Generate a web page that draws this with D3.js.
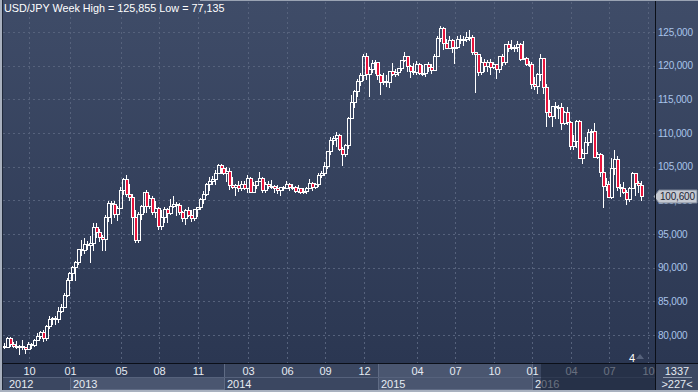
<!DOCTYPE html>
<html><head><meta charset="utf-8">
<script src="https://cdn.jsdelivr.net/npm/d3@7"></script>
<style>html,body{margin:0;padding:0;background:#2c3853;overflow:hidden}svg{display:block}text{font-family:"Liberation Sans",Arial,sans-serif}</style>
</head><body><svg id="c" width="698" height="392"></svg>
<script>
// ---------------- DATA ----------------
const title = "USD/JPY Week High = 125,855 Low = 77,135";
const firstWeek = "2012-08-06"; // Monday of first weekly candle
const open = [
78.30,78.25,79.55,78.70,78.30,78.25,78.35,78.20,77.95,78.70,78.45,79.30,79.90,80.40,79.50,81.30,82.45,82.50,82.40,83.50,84.20,85.90,
88.15,89.20,90.05,90.85,92.70,92.60,93.50,93.40,93.60,96.00,95.25,94.50,94.20,97.55,99.60,99.45,98.00,98.90,101.60,103.20,101.00,100.45,97.50,94.10,97.90,99.10,101.20,99.20,100.40,98.20,98.90,96.20,97.50,98.70,98.10,99.10,99.40,99.35,98.25,97.45,98.60,97.75,97.40,98.70,99.05,100.20,101.00,102.40,102.90,103.20,104.10,105.30,
104.85,104.10,104.30,102.30,102.05,102.30,101.80,102.50,101.80,103.30,101.30,102.30,102.80,103.30,101.60,102.40,102.15,102.20,101.85,101.50,101.95,101.80,102.50,102.00,102.05,101.40,101.85,101.30,101.35,101.80,102.60,102.05,102.40,103.80,104.05,105.10,107.35,108.95,109.25,109.75,107.65,106.90,108.15,112.30,114.60,116.30,117.75,118.65,121.45,118.80,119.50,120.40,
120.50,118.55,117.60,117.75,117.50,119.15,118.75,119.00,119.60,120.80,121.40,120.00,119.15,119.00,120.20,118.90,118.95,120.20,119.75,119.35,121.50,124.10,125.60,123.40,122.65,123.85,122.80,122.75,124.00,123.80,123.90,124.20,124.30,122.00,121.70,119.00,120.60,119.95,120.55,119.85,120.20,119.45,121.45,120.60,123.15,122.60,122.80,122.80,123.15,120.95,121.20,120.30,
120.20,117.25,116.95,118.75,121.10,116.85,113.15,112.55,113.95,113.80,113.80,111.50,113.05,111.70,108.05,108.75,111.80,106.30,107.10,108.65,110.15,110.30,106.50,106.90,104.20,102.20,102.50,100.50,104.80,106.10,102.00,101.80,101.30,100.20,101.80,104.00,102.60,102.25];
const high = [
78.80,79.65,79.65,78.90,79.05,78.50,79.20,78.25,78.90,78.75,79.45,80.35,80.65,80.70,81.50,82.85,82.60,82.85,84.20,84.60,86.20,88.45,
89.35,90.20,91.00,92.80,94.05,94.45,94.00,94.75,96.60,96.70,95.80,94.90,97.80,99.95,99.90,99.90,99.20,101.95,103.30,103.74,102.50,101.00,98.50,98.30,99.30,101.30,101.55,100.85,100.70,99.95,99.05,98.50,99.05,98.90,100.25,100.60,99.70,99.65,98.40,98.70,99.00,98.55,98.75,99.05,100.40,101.35,102.60,103.40,103.60,104.45,105.40,105.45,
105.20,104.90,104.85,103.40,102.50,102.85,102.85,102.85,103.75,103.40,102.75,102.85,104.15,103.45,102.75,102.85,103.00,102.30,102.35,101.95,102.10,102.80,102.60,102.40,102.10,102.25,101.90,101.85,102.00,103.15,102.70,102.60,104.10,104.30,105.70,107.40,109.45,109.50,110.10,109.90,107.85,108.40,112.45,115.60,116.40,118.00,118.95,121.70,121.85,119.85,120.80,120.90,
120.60,118.80,118.95,118.65,119.25,120.45,119.55,119.65,120.85,122.05,121.50,120.10,120.35,120.65,120.40,120.10,120.25,120.50,120.20,121.80,124.45,125.855,125.70,124.00,124.45,123.90,123.00,124.40,124.50,124.40,125.05,125.30,124.50,122.10,121.75,121.35,121.00,120.80,121.00,120.60,120.25,121.50,121.75,123.25,123.60,123.75,123.10,123.65,123.30,123.60,121.35,120.70,
120.55,118.25,118.85,121.70,121.20,117.35,114.85,113.95,114.55,114.10,114.45,113.30,113.80,111.75,109.75,111.90,111.90,107.55,109.35,110.60,110.65,111.45,107.20,107.05,106.80,103.30,102.80,106.30,107.50,106.55,102.45,102.65,101.50,102.05,104.20,104.00,102.80,102.80];
const low = [
78.10,78.15,78.40,78.20,78.10,77.135,77.90,77.40,77.90,78.00,78.40,79.20,79.50,79.05,79.30,81.00,81.70,81.70,82.00,83.40,84.10,85.80,
86.80,88.10,88.10,90.50,91.95,92.20,92.70,90.85,92.60,94.60,94.00,92.60,92.55,97.00,96.60,97.50,97.10,98.80,101.00,100.60,100.00,95.00,93.80,93.75,97.20,98.20,98.30,98.90,98.00,97.55,95.80,95.80,96.80,96.80,97.90,99.00,97.75,97.90,96.95,96.55,97.60,96.95,97.15,97.65,98.70,99.55,100.75,101.60,102.50,102.40,104.10,104.00,
103.90,102.85,101.75,101.80,100.75,101.40,101.60,101.70,101.20,101.20,101.20,101.90,102.80,101.30,101.30,101.90,101.90,101.30,101.10,100.80,101.60,101.80,101.60,101.70,101.30,101.25,101.05,101.05,101.10,101.80,101.50,101.90,102.20,103.50,103.80,104.75,106.95,108.30,108.00,107.50,105.20,106.60,107.70,112.30,113.85,115.45,117.20,117.85,117.95,115.55,119.10,118.90,
117.95,115.85,117.25,117.00,116.85,118.55,118.40,118.55,119.40,120.65,119.25,118.35,118.70,118.75,118.70,118.55,118.50,119.20,118.90,119.30,121.45,123.70,122.45,122.55,122.60,122.10,120.40,122.60,123.30,123.00,123.60,123.80,121.70,116.15,118.60,118.75,119.25,119.20,118.70,119.60,118.10,119.05,120.10,120.20,122.20,122.50,122.20,122.25,120.85,120.95,120.15,119.95,
116.70,116.50,115.97,117.90,116.00,110.98,112.35,111.05,112.20,112.20,110.65,111.30,111.30,107.65,107.60,107.90,106.30,105.55,107.05,108.20,108.70,106.50,106.25,103.55,99.00,101.50,100.45,100.40,103.95,101.60,100.70,101.15,99.50,99.90,101.80,100.80,101.20,100.10];
const close = [
78.25,79.55,78.70,78.30,78.25,78.35,78.20,77.95,78.70,78.45,79.30,79.90,80.40,79.50,81.30,82.45,82.50,82.40,83.50,84.20,85.90,88.15,
89.20,90.05,90.85,92.70,92.60,93.50,93.40,93.60,96.00,95.25,94.50,94.20,97.55,99.60,99.45,98.00,98.90,101.60,103.20,101.00,100.45,97.50,94.10,97.90,99.10,101.20,99.20,100.40,98.20,98.90,96.20,97.50,98.70,98.10,99.10,99.40,99.35,98.25,97.45,98.60,97.75,97.40,98.70,99.05,100.20,101.00,102.40,102.90,103.20,104.10,105.30,104.85,
104.10,104.30,102.30,102.05,102.30,101.80,102.50,101.80,103.30,101.30,102.30,102.80,103.30,101.60,102.40,102.15,102.20,101.85,101.50,101.95,101.80,102.50,102.00,102.05,101.40,101.85,101.30,101.35,101.80,102.60,102.05,102.40,103.80,104.05,105.10,107.35,108.95,109.25,109.75,107.65,106.90,108.15,112.30,114.60,116.30,117.75,118.65,121.45,118.80,119.50,120.40,120.50,
118.55,117.60,117.75,117.50,119.15,118.75,119.00,119.60,120.80,121.40,120.00,119.15,119.00,120.20,118.90,118.95,120.20,119.75,119.35,121.50,124.10,125.60,123.40,122.65,123.85,122.80,122.75,124.00,123.80,123.90,124.20,124.30,122.00,121.70,119.00,120.60,119.95,120.55,119.85,120.20,119.45,121.45,120.60,123.15,122.60,122.80,122.80,123.15,120.95,121.20,120.30,120.20,
117.25,116.95,118.75,121.10,116.85,113.15,112.55,113.95,113.80,113.80,111.50,113.05,111.70,108.05,108.75,111.80,106.30,107.10,108.65,110.15,110.30,106.50,106.90,104.20,102.20,102.50,100.50,104.80,106.10,102.00,101.80,101.30,100.20,101.80,104.00,102.60,102.25,100.60];
const tickMonths = ["2012-10","2013-01","2013-05","2013-08","2013-11","2014-03","2014-06","2014-09","2014-12","2015-04","2015-07","2015-10","2016-01","2016-04","2016-07","2016-10"];
const years = [2012,2013,2014,2015,2016];
const yTicks = [80,85,90,95,100,105,110,115,120,125];
const lastPrice = 100.600;
const barsLabel = "4";
const cornerTop = "1337", cornerBottom = ">227<";

// ---------------- LAYOUT ----------------
const W = 698, H = 392;
const plotL = 3, plotR = 655, plotT = 2, plotB = 363;
const row1B = 377, row2B = 390;
const parse = d3.utcParse("%Y-%m-%d");
const dates = open.map((_, i) => d3.utcMonday.offset(parse(firstWeek), i));
const firstMon = s => d3.utcMonday.ceil(d3.utcParse("%Y-%m")(s));
const tickDates = tickMonths.map(firstMon);

const x = d3.scaleUtc().domain([parse("2012-10-01"), parse("2016-10-03")]).range([29, 648]);
const y = d3.scaleLinear().domain([80, 125]).range([335, 32]);
const loc = d3.formatLocale({decimal: ",", thousands: ".", grouping: [3]});
const fmt = loc.format(".3f");

const svg = d3.select("#c");
const defs = svg.append("defs");
const grad = defs.append("linearGradient").attr("id", "bg").attr("x1", 0).attr("y1", 0).attr("x2", 0).attr("y2", 1);
grad.append("stop").attr("offset", "0%").attr("stop-color", "#3f4c68");
grad.append("stop").attr("offset", "100%").attr("stop-color", "#2b3752");
defs.append("clipPath").attr("id", "pc").append("rect")
  .attr("x", plotL).attr("y", plotT).attr("width", plotR - plotL).attr("height", plotB - plotT);

svg.append("rect").attr("x", 0).attr("y", 0).attr("width", W).attr("height", plotB).attr("fill", "url(#bg)");

// grid
const grid = svg.append("g").attr("stroke", "#56627c").attr("stroke-dasharray", "2,3").attr("shape-rendering", "crispEdges");
grid.selectAll("line.h").data(yTicks).join("line")
  .attr("x1", plotL).attr("x2", plotR)
  .attr("y1", d => Math.round(y(d)) + 0.5).attr("y2", d => Math.round(y(d)) + 0.5);
grid.selectAll("line.v").data(tickDates).join("line")
  .attr("y1", plotT).attr("y2", plotB)
  .attr("x1", d => Math.round(x(d)) + 0.5).attr("x2", d => Math.round(x(d)) + 0.5);

// candles
const cg = svg.append("g").attr("clip-path", "url(#pc)").attr("shape-rendering", "crispEdges");
cg.selectAll("g").data(d3.range(open.length)).join("g").each(function (i) {
  const g = d3.select(this);
  const cx = Math.round(x(dates[i]));
  const o = open[i], c = close[i];
  const yt = Math.round(y(Math.max(o, c))), yb = Math.round(y(Math.min(o, c)));
  const yh = Math.round(y(high[i])), yl = Math.round(y(low[i]));
  const wx = cx - 0.5;
  if (yh < yt) g.append("line").attr("x1", wx).attr("x2", wx).attr("y1", yh).attr("y2", yt).attr("stroke", "#fff");
  if (yl > yb) g.append("line").attr("x1", wx).attr("x2", wx).attr("y1", yb + 1).attr("y2", yl + 1).attr("stroke", "#fff");
  g.append("rect").attr("x", cx - 1.5).attr("y", yt + 0.5).attr("width", 3).attr("height", Math.max(yb - yt, 1))
    .attr("fill", c < o ? "#e8143c" : "none").attr("stroke", "#fff").attr("stroke-width", 1);
});

// title
svg.append("text").attr("x", 4).attr("y", 12).attr("fill", "#ffffff").attr("font-size", 10.8).text(title);

// y axis labels
svg.append("g").selectAll("text").data(yTicks).join("text")
  .attr("x", 658).attr("y", d => y(d) + 3.5).attr("fill", "#a9c4ea").attr("font-size", 10)
  .attr("letter-spacing", -0.2).text(d => fmt(d));

// price tag
const py = Math.round(y(lastPrice)) + 0.5;
svg.append("path")
  .attr("d", `M654,${py} L659,${py - 6.5} L697,${py - 6.5} L697,${py + 6.5} L659,${py + 6.5} Z`)
  .attr("fill", "#c5c9d1").attr("stroke", "#7d8799");
svg.append("text").attr("x", 660).attr("y", py + 3.5).attr("fill", "#1c2434").attr("font-size", 10)
  .attr("letter-spacing", -0.2).text(fmt(lastPrice));

// bars indicator
svg.append("text").attr("x", 629).attr("y", 362).attr("fill", "#ffffff").attr("font-size", 11).text(barsLabel);
svg.append("path").attr("d", "M636,359 L640,354 L644,359 Z").attr("fill", "#56627c");

// bottom axis backgrounds
const yearStart = years.map(yr => Math.max(plotL, Math.round(x(d3.utcMonday.ceil(new Date(Date.UTC(yr, 0, 1)))))));
const yearEnd = yearStart.slice(1).concat([plotR]);
svg.append("rect").attr("x", 0).attr("y", plotB).attr("width", W).attr("height", H - plotB).attr("fill", "#3b4761");
// row 1 dark part
svg.append("rect").attr("x", plotL).attr("y", plotB).attr("width", yearStart[2] - plotL).attr("height", row1B - plotB).attr("fill", "#2f3b56");
// alternating year boxes
years.forEach((yr, i) => {
  if (i % 2 === 1) {
    const full = yr === 2015;
    svg.append("rect").attr("x", yearStart[i] + 0.5).attr("y", full ? plotB + 0.5 : row1B + 0.5)
      .attr("width", yearEnd[i] - yearStart[i]).attr("height", full ? row2B - plotB - 1 : row2B - row1B - 1)
      .attr("fill", "#4a5670").attr("stroke", "#5f6b84").attr("shape-rendering", "crispEdges");
  } else if (i > 0) {
    svg.append("line").attr("x1", yearStart[i] + 0.5).attr("x2", yearStart[i] + 0.5)
      .attr("y1", i === 4 ? row1B : plotB).attr("y2", row2B).attr("stroke", "#5f6b84").attr("shape-rendering", "crispEdges");
  }
});
svg.append("line").attr("x1", plotL).attr("x2", plotR).attr("y1", row1B + 0.5).attr("y2", row1B + 0.5)
  .attr("stroke", "#56627c").attr("shape-rendering", "crispEdges");

// month labels
svg.append("g").selectAll("text").data(tickDates).join("text")
  .attr("x", d => Math.round(x(d)) + 0.5).attr("y", 375).attr("text-anchor", "middle")
  .attr("fill", "#e6ebf2").attr("font-size", 11).text(d3.utcFormat("%m"));
// year labels
svg.append("g").selectAll("text").data(years).join("text")
  .attr("x", (d, i) => yearStart[i] + (i === 0 ? 6 : 3)).attr("y", 388)
  .attr("fill", "#e6ebf2").attr("font-size", 11).text(d => d);

// darkened overlay over the latest part of the time axis
const ov = Math.round(x(parse("2016-01-25")));
svg.append("rect").attr("x", ov).attr("y", plotB + 1).attr("width", plotR - ov).attr("height", row2B - plotB - 1)
  .attr("fill", "#1a2338").attr("opacity", 0.62);

// corner box
svg.append("rect").attr("x", plotR + 1).attr("y", plotB + 1).attr("width", W - plotR - 1).attr("height", row2B - plotB - 1).attr("fill", "#3b4761");
svg.append("text").attr("x", 677).attr("y", 375).attr("text-anchor", "middle").attr("fill", "#e6ebf2").attr("font-size", 11).text(cornerTop);
svg.append("line").attr("x1", 663).attr("x2", 692).attr("y1", 377.5).attr("y2", 377.5).attr("stroke", "#8d98ab");
svg.append("text").attr("x", 677).attr("y", 388).attr("text-anchor", "middle").attr("fill", "#e6ebf2").attr("font-size", 11).text(cornerBottom);

// borders
svg.append("g").attr("shape-rendering", "crispEdges").call(g => {
  g.append("line").attr("x1", 0).attr("x2", W).attr("y1", plotB + 0.5).attr("y2", plotB + 0.5).attr("stroke", "#0b0f18");
  g.append("line").attr("x1", plotR + 0.5).attr("x2", plotR + 0.5).attr("y1", 0).attr("y2", row2B).attr("stroke", "#0b0f18");
  g.append("rect").attr("x", 0).attr("y", 0).attr("width", 2).attr("height", H).attr("fill", "#a9b1bf");
  g.append("line").attr("x1", 2.5).attr("x2", 2.5).attr("y1", 0).attr("y2", H).attr("stroke", "#1f2839");
  g.append("rect").attr("x", 0).attr("y", row2B).attr("width", W).attr("height", H - row2B).attr("fill", "#a9b1bf");
  g.append("rect").attr("x", 200).attr("y", 0).attr("width", W - 200).attr("height", 1).attr("fill", "#9aa3b3");
});
</script></body></html>
